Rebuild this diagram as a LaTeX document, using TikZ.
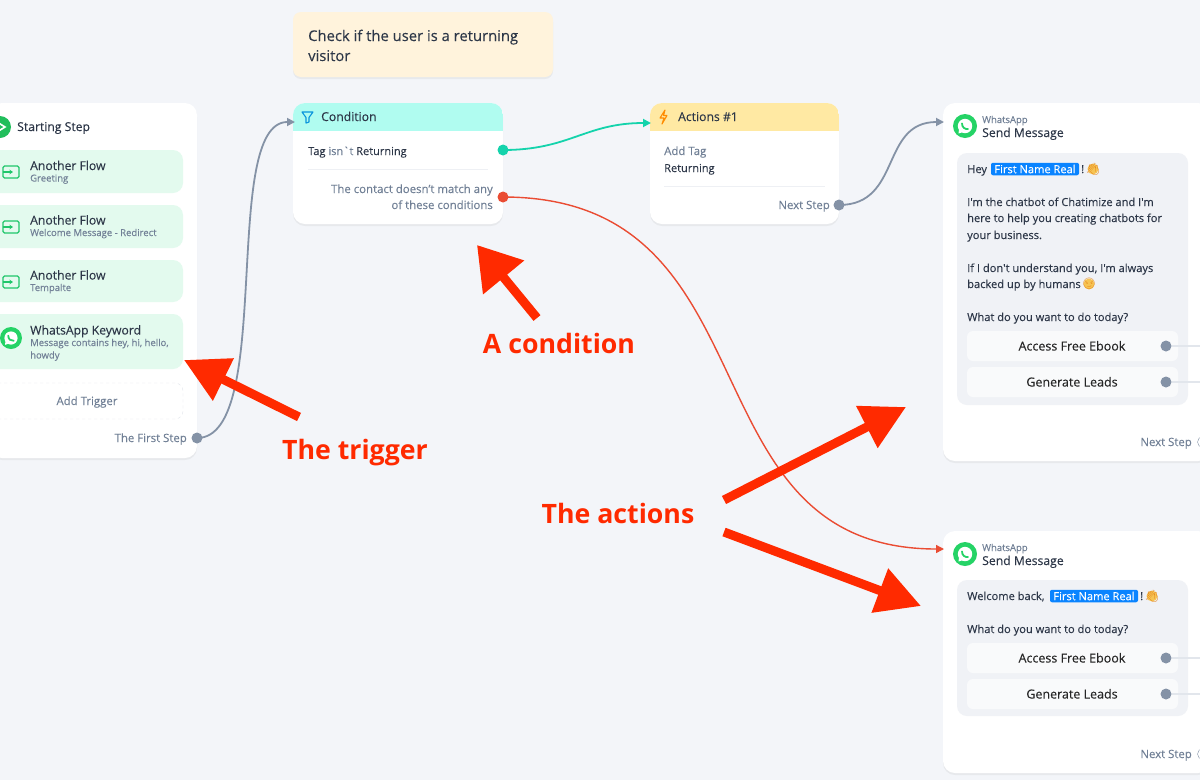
\documentclass[tikz,border=0pt]{standalone}
\usepackage{fontspec}
\newfontfamily\uifont[FakeBold=0.12]{Open Sans}
\newfontfamily\callfont{Open Sans}
\newfontfamily\emojifont{Noto Emoji}
\usetikzlibrary{arrows.meta,shadows}
\definecolor{bgc}{HTML}{F3F5F9}
\definecolor{inkc}{HTML}{2D3748}
\definecolor{greyc}{HTML}{718096}
\definecolor{portc}{HTML}{8492A6}
\definecolor{itemc}{HTML}{E3FAEE}
\definecolor{greenc}{HTML}{25D366}
\definecolor{panelc}{HTML}{F0F2F6}
\definecolor{notec}{HTML}{FFF3DC}
\definecolor{tealc}{HTML}{14D3AC}
\definecolor{redc}{HTML}{EA4C33}
\definecolor{alertc}{HTML}{FF2A00}
\definecolor{condc}{HTML}{B0FCF0}
\definecolor{actc}{HTML}{FFE9A3}
\definecolor{pillc}{HTML}{0A84FF}
\definecolor{linec}{HTML}{E2E6EC}
\definecolor{emoc}{HTML}{F6C453}
\tikzset{
 x=1pt,y=-1pt,
 cardbox/.style={fill=white,rounded corners=12pt,inner sep=0pt,drop shadow={opacity=.10,shadow xshift=0pt,shadow yshift=-2pt}},
 itembox/.style={fill=itemc,rounded corners=10pt,inner sep=0pt},
 panelbox/.style={fill=panelc,rounded corners=10pt,inner sep=0pt},
 btnbox/.style={fill=white!60!panelc,rounded corners=6pt,inner sep=0pt,minimum width=211pt,minimum height=30pt},
 pillbox/.style={fill=pillc,rounded corners=2pt,inner sep=0pt,minimum width=88pt,minimum height=12.5pt,text=white,font=\uifont\fontsize{11.1}{12}\selectfont},
 port/.style={circle,fill=#1,inner sep=0pt,minimum size=11pt},
 txt/.style={inner sep=0pt,anchor=base west,text=inkc,font=\uifont\fontsize{12.2}{14}\selectfont},
 txtr/.style={txt,anchor=base east},
 txtc/.style={txt,anchor=base},
 sub/.style={txt,text=greyc,font=\uifont\fontsize{9.5}{10}\selectfont},
 grey/.style={txt,text=greyc,font=\uifont\fontsize{11.4}{13}\selectfont},
 greyr/.style={grey,anchor=base east},
 msg/.style={txt,text=inkc,font=\uifont\fontsize{11.1}{13}\selectfont},
 btntxt/.style={txtc,text=black!85,font=\uifont\fontsize{12.5}{14}\selectfont},
 flow/.style={line width=1.8pt,-{Triangle[length=8pt,width=8pt]}},
 call/.style={alertc,line width=9pt,-{Triangle[length=44pt,width=45pt]}},
 calltxt/.style={inner sep=0pt,anchor=base,text=alertc,font=\callfont\bfseries\fontsize{26.7}{30}\selectfont},
 emo/.style={inner sep=0pt,text=orange!60!brown,font=\emojifont\fontsize{12}{12}\selectfont},
}
\newcommand{\waicon}[3]{% x y radius
 \begin{scope}[shift={(#1,#2)},scale=#3/12]
  \fill[greenc] (0,0) circle[radius=12pt];
  \fill[white] (0,0) circle[radius=7.2pt];
  \fill[white] (-6.5,7.5) -- (-5.8,2) -- (-2,6) -- cycle;
  \draw[greenc,line width=1.8pt,line cap=round] (-3,-2.6) .. controls (-3,1.5) and (0,3.4) .. (3,3);
 \end{scope}}
\newcommand{\flowicon}[1]{%
 \draw[greenc!85!teal,line width=1.3pt,rounded corners=1.5pt] (3,#1-6) rectangle (19,#1+6);
 \draw[greenc!85!teal,line width=1.3pt,-{Stealth[length=3.5pt,width=4.5pt]}] (3,#1) -- (13,#1);}
\begin{document}
\begin{tikzpicture}
\useasboundingbox (0,0) rectangle (1200,780);
\fill[bgc] (0,0) rectangle (1200,780);

% note
\node[cardbox,fill=notec,rounded corners=8pt,minimum width=260pt,minimum height=65pt] (note) at (423,44.5) {};
\node[txt,font=\uifont\fontsize{14.8}{17}\selectfont] (notea) at (308,41) {Check if the user is a returning};
\node[txt,font=\uifont\fontsize{14.8}{17}\selectfont] (noteb) at (308,61) {visitor};

% starting card
\node[cardbox,minimum width=207pt,minimum height=355pt] (start) at (93.5,280.5) {};
\fill[greenc!90!black] (0,127) circle[radius=11pt];
\draw[white,line width=1.6pt] (-3,122) -- (5,127) -- (-3,132);
\node[txt] (startt) at (17,131) {Starting Step};
\node[itembox,minimum width=193pt,minimum height=43pt] (i1) at (86.5,171.5) {};
\node[itembox,minimum width=193pt,minimum height=43pt] (i2) at (86.5,226.5) {};
\node[itembox,minimum width=193pt,minimum height=42pt] (i3) at (86.5,281) {};
\node[itembox,minimum width=193pt,minimum height=55pt] (i4) at (86.5,341.5) {};
\flowicon{172}\flowicon{227}\flowicon{282}
\waicon{11}{338}{11}
\node[txt] (i1a) at (30,170) {Another Flow};
\node[sub] (i1b) at (30,181.5) {Greeting};
\node[txt] (i2a) at (30,224.5) {Another Flow};
\node[sub] (i2b) at (30,236) {Welcome Message - Redirect};
\node[txt] (i3a) at (30,279.5) {Another Flow};
\node[sub] (i3b) at (30,291) {Tempalte};
\node[txt] (i4a) at (30,334.5) {WhatsApp Keyword};
\node[sub] (i4b) at (30,346) {Message contains hey, hi, hello,};
\node[sub] (i4c) at (30,358.5) {howdy};
\node[draw=linec,dashed,fill=white,rounded corners=8pt,inner sep=0pt,minimum width=193pt,minimum height=36pt] (addt) at (86.5,401) {};
\node[grey,anchor=base] (addl) at (87,405) {Add Trigger};
\node[greyr] (first) at (187,442) {The First Step};
\node[port=portc] (p0) at (197,438) {};

% condition card
\node[cardbox,minimum width=210pt,minimum height=121pt] (cond) at (398,163.5) {};
\begin{scope}
 \clip[rounded corners=12pt] (293,103) rectangle (503,224);
 \fill[condc] (293,103) rectangle (503,131);
\end{scope}
\draw[cyan!80!blue,line width=1.1pt,line join=round] (302,112) -- (313,112) -- (309,117.5) -- (309,122) -- (306,123) -- (306,117.5) -- cycle;
\node[txt] (condt) at (321,121) {Condition};
\node[txt,font=\uifont\fontsize{11}{13}\selectfont] (tag) at (308,155) {Tag \textcolor{greyc}{isn{\char96}t} Returning};
\draw[linec!60!white] (308,169) -- (488,169);
\node[greyr] (nm1) at (493,193) {The contact doesn’t match any};
\node[greyr] (nm2) at (493,209) {of these conditions};
\node[port=tealc] (p1) at (503,150) {};
\node[port=redc] (p2) at (503,197) {};

% actions card
\node[cardbox,minimum width=189pt,minimum height=121pt] (act) at (744.5,163.5) {};
\begin{scope}
 \clip[rounded corners=12pt] (650,103) rectangle (839,224);
 \fill[actc] (650,103) rectangle (839,131);
\end{scope}
\draw[orange!90!yellow,line width=1.1pt,line join=round] (665,110) -- (660,118) -- (664,118) -- (662,124) -- (667,115.5) -- (663.5,115.5) -- cycle;
\node[txt] (actt) at (678,121) {Actions \#1};
\node[grey] (addtag) at (664,155) {Add Tag};
\node[txt,font=\uifont\fontsize{11}{13}\selectfont] (ret) at (664,172) {Returning};
\draw[linec!60!white] (664,186) -- (825,186);
\node[greyr] (next1) at (830,209) {Next Step};
\node[port=portc] (p3) at (839,205) {};

% whatsapp card 1
\node[cardbox,minimum width=267pt,minimum height=358pt] (wa1) at (1076.5,282) {};
\waicon{965}{126}{12}
\node[sub] (wa1a) at (982,123) {WhatsApp};
\node[txt] (wa1b) at (982,137) {Send Message};
\node[panelbox,minimum width=231pt,minimum height=252pt] (pa1) at (1072.5,279) {};
\node[msg] (m1) at (967,173) {Hey};
\node[pillbox] (pill1) at (1035,169) {First Name Real};
\node[msg] (m1b) at (1081,173) {!};
\fill[emoc] (1093,169) circle[radius=5.5pt];
\node[emo] (e1) at (1093,169) {👋};
\node[msg] (m2) at (967,206) {I'm the chatbot of Chatimize and I'm};
\node[msg] (m3) at (967,222) {here to help you creating chatbots for};
\node[msg] (m4) at (967,239) {your business.};
\node[msg] (m5) at (967,272) {If I don't understand you, I'm always};
\node[msg] (m6) at (967,288) {backed up by humans};
\fill[emoc] (1089,284) circle[radius=5.5pt];
\node[emo,font=\emojifont\fontsize{11}{11}\selectfont] (e2) at (1089,284) {😏};
\node[msg] (m7) at (967,321) {What do you want to do today?};
\node[btnbox] (b1) at (1072.5,346) {};
\node[btnbox] (b2) at (1072.5,382) {};
\node[btntxt] (b1t) at (1072,350.5) {Access Free Ebook};
\node[btntxt] (b2t) at (1072,386.5) {Generate Leads};
\node[port=portc] (p4) at (1166,346) {};
\node[port=portc] (p5) at (1166,382) {};
\coordinate (o4) at (1200,346);
\coordinate (o5) at (1200,382);
\draw[linec,line width=1.2pt] (p4) -- (o4);
\draw[linec,line width=1.2pt] (p5) -- (o5);
\node[greyr] (next2) at (1192,446) {Next Step};
\node[port=portc,fill=none,draw=portc] (p6) at (1203,442) {};

% whatsapp card 2
\node[cardbox,minimum width=267pt,minimum height=242pt] (wa2) at (1076.5,652) {};
\waicon{965}{554}{12}
\node[sub] (wa2a) at (982,551) {WhatsApp};
\node[txt] (wa2b) at (982,565) {Send Message};
\node[panelbox,minimum width=231pt,minimum height=136pt] (pa2) at (1072.5,648) {};
\node[msg] (n1) at (967,600) {Welcome back,};
\node[pillbox] (pill2) at (1094,596) {First Name Real};
\node[msg] (n1b) at (1140,600) {!};
\fill[emoc] (1152,596) circle[radius=5.5pt];
\node[emo] (e3) at (1152,596) {👋};
\node[msg] (n2) at (967,633) {What do you want to do today?};
\node[btnbox] (b3) at (1072.5,658) {};
\node[btnbox] (b4) at (1072.5,694) {};
\node[btntxt] (b3t) at (1072,662.5) {Access Free Ebook};
\node[btntxt] (b4t) at (1072,698.5) {Generate Leads};
\node[port=portc] (p7) at (1166,658) {};
\node[port=portc] (p8) at (1166,694) {};
\coordinate (o7) at (1200,658);
\coordinate (o8) at (1200,694);
\draw[linec,line width=1.2pt] (p7) -- (o7);
\draw[linec,line width=1.2pt] (p8) -- (o8);
\node[greyr] (next3) at (1192,758) {Next Step};
\node[port=portc,fill=none,draw=portc] (p9) at (1203,754) {};

% connectors
\coordinate (in1) at (295,122);
\coordinate (in2) at (651,123);
\coordinate (in3) at (944,122);
\coordinate (in4) at (944,549);
\draw[flow,portc] (p0.center) .. controls (275,438) and (220,122) .. (in1);
\draw[flow,tealc] (p1.center) .. controls (570,150) and (585,123) .. (in2);
\draw[flow,portc] (p3.center) .. controls (902,205) and (880,122) .. (in3);
\draw[flow,redc,line width=1.4pt] (p2.center) .. controls (780,197) and (680,549) .. (in4);

% callouts
\coordinate (c1a) at (299,417); \coordinate (c1b) at (184,360);
\coordinate (c2a) at (537,318); \coordinate (c2b) at (477,245);
\coordinate (c3a) at (724,500); \coordinate (c3b) at (906,407);
\coordinate (c4a) at (724,532); \coordinate (c4b) at (921,606);
\draw[call] (c1a) -- (c1b);
\draw[call,-{Triangle[length=42pt,width=51pt]}] (c2a) -- (c2b);
\draw[call] (c3a) -- (c3b);
\draw[call] (c4a) -- (c4b);
\node[calltxt] (t1) at (355,459) {The trigger};
\node[calltxt] (t2) at (559,353) {A condition};
\node[calltxt] (t3) at (618,523) {The actions};
\end{tikzpicture}
\end{document}
